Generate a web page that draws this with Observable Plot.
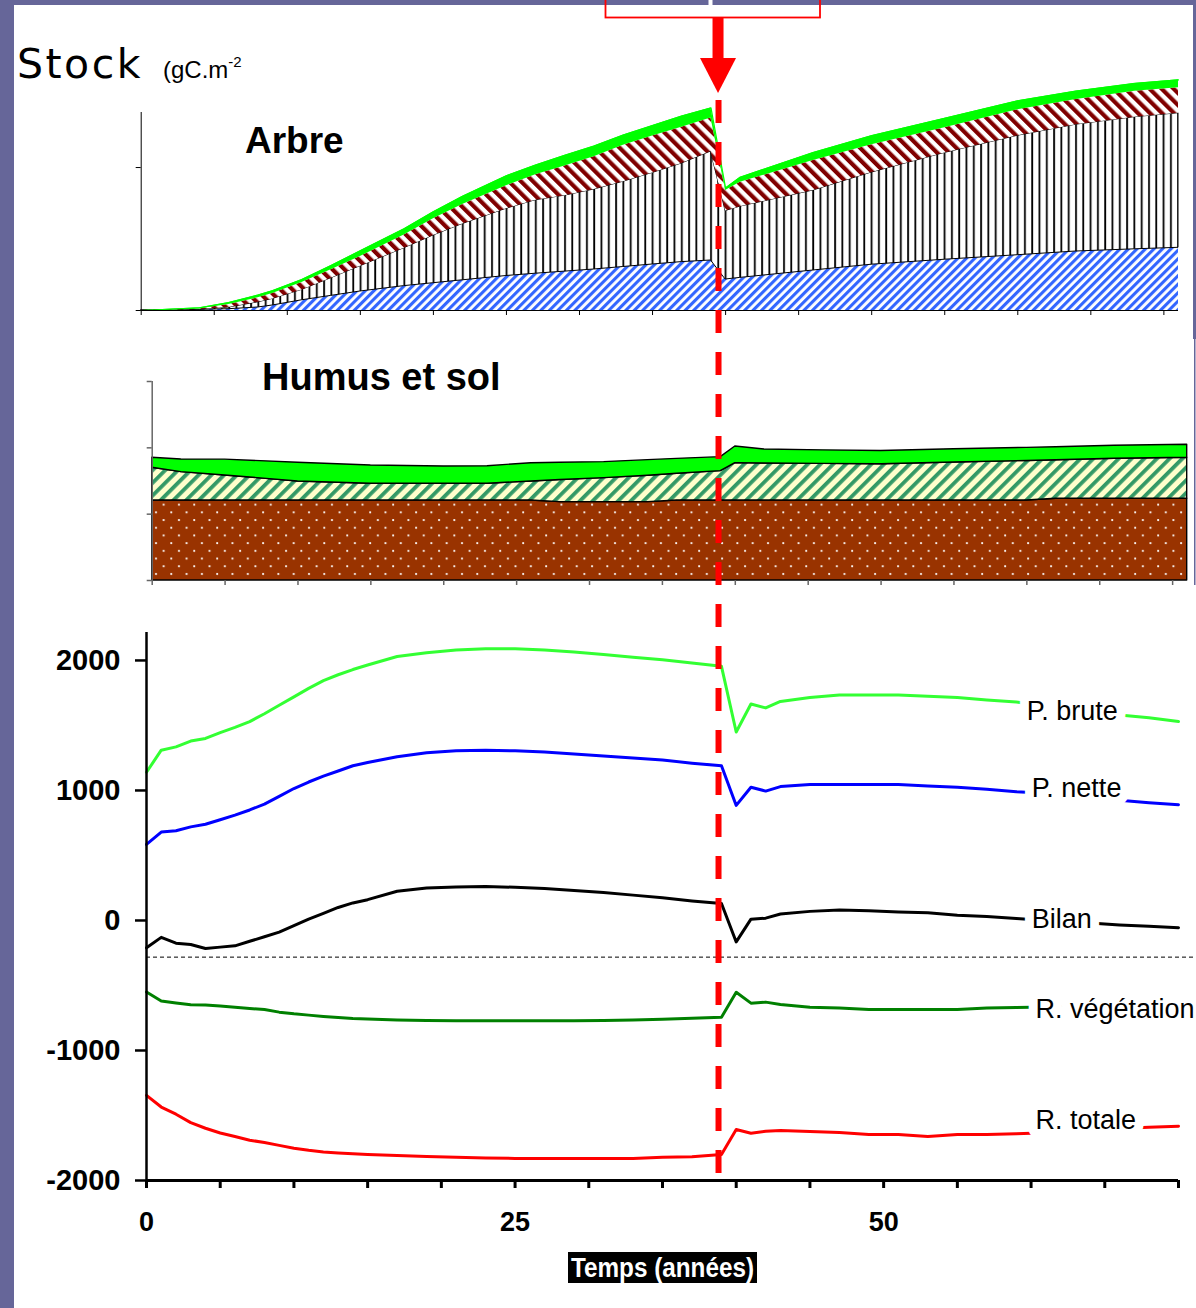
<!DOCTYPE html>
<html lang="fr">
<head>
<meta charset="utf-8">
<title>Stock</title>
<script src="https://cdn.jsdelivr.net/npm/d3@7"></script>
<script src="https://cdn.jsdelivr.net/npm/@observablehq/plot@0.6"></script>
<style>
  html,body{margin:0;padding:0;background:#fff;}
  #page{position:relative;width:1196px;height:1308px;overflow:hidden;background:#fff;}
  #page > svg{position:absolute;}
</style>
</head>
<body>
<div id="page"></div>
<script>
// ---------------- Flux panel (gC.m-2 per year) ----------------
const fluxYears = [0,1,2,3,4,5,6,7,8,9,10,11,12,13,14,15,17,19,21,23,25,27,29,31,33,35,37,39,40,41,42,43,45,47,49,51,53,55,57,59,60,62,64,66,68,70];
const pBrute = [1140,1310,1335,1380,1400,1445,1485,1530,1590,1655,1720,1785,1845,1890,1930,1965,2030,2060,2080,2090,2090,2080,2065,2045,2025,2005,1980,1955,1450,1665,1635,1685,1715,1735,1735,1735,1725,1715,1695,1680,1665,1640,1610,1580,1560,1530];
const pNette = [585,680,690,720,740,775,810,850,895,955,1015,1065,1110,1150,1190,1215,1260,1290,1305,1310,1305,1295,1280,1265,1250,1235,1210,1190,885,1025,995,1030,1045,1045,1045,1045,1035,1025,1010,990,985,960,940,925,905,890];
const bilan = [-210,-130,-175,-185,-215,-205,-195,-160,-125,-90,-40,10,55,100,135,160,225,250,258,262,255,245,230,215,195,175,150,130,-165,10,18,50,70,80,75,65,60,40,30,15,8,-5,-20,-35,-45,-55];
const rVegetation = [-550,-620,-635,-648,-650,-658,-668,-677,-685,-705,-718,-728,-738,-746,-754,-758,-765,-770,-772,-772,-772,-772,-772,-770,-766,-760,-752,-744,-552,-636,-628,-646,-667,-674,-685,-685,-685,-685,-674,-670,-667,-665,-662,-660,-658,-655];
const rTotale = [-1345,-1435,-1490,-1555,-1598,-1635,-1662,-1690,-1708,-1730,-1752,-1768,-1780,-1788,-1795,-1800,-1808,-1815,-1822,-1826,-1830,-1830,-1830,-1830,-1830,-1822,-1818,-1800,-1608,-1636,-1621,-1615,-1623,-1631,-1646,-1646,-1662,-1646,-1646,-1640,-1636,-1625,-1612,-1600,-1590,-1582];
const fluxNames = ["P. brute","P. nette","Bilan","R. végétation","R. totale"];
const fluxColors = ["#33ff33","#0000ff","#000000","#008000","#ff0000"];
const labelYears = [59.7, 60.05, 60.05, 60.3, 60.3];
const labelValues = [1605, 1015, 5, -680, -1534];
const fluxTicks = [-2000,-1000,0,1000,2000];
const yearTicks = [0,5,10,15,20,25,30,35,40,45,50,55,60,65,70];
const yearTickLabels = [0,25,50];
const refLevel = -282;
const eventYear = 38.8;

// ---------------- Stock panel "Arbre" (gC.m-2) ----------------
const treeYears = [0,4,6,8,9,11,13,15,18,20,22,25,27,29,31,33,35,37,39,40,41,46,50,55,60,64,68,71];
const treeStem = [0,49,91,210,350,713,1021,1329,1706,1909,2112,2413,2573,2720,2867,3042,3217,3385,3497,2168,2280,2797,3203,3552,3867,4126,4280,4385];
const treeWood = [0,21,119,363,461,728,1238,1769,2651,3336,3937,4706,5140,5315,5595,5965,6405,6895,7622,4790,4986,5595,6447,7469,8357,8874,9244,9413];
const treeBranches = [0,49,210,315,378,510,587,678,916,1168,1364,1608,1783,2070,2300,2560,2580,2530,2350,1434,1699,2098,1951,1762,1818,1755,1804,1776];
const treeLeaves = [0,70,140,190,200,220,300,400,450,500,580,700,679,748,741,706,735,791,700,175,350,559,629,664,629,594,559,559];
const treeYTicks = [0,10000];

// ---------------- Stock panel "Humus et sol" (gC.m-2) ----------------
const soilYears = [0,2,5,10,15,20,23,26,28,31,34,36,39,40,42,46,50,55,60,62,66,71];
const soilMineral = [6030,6030,6030,6030,6030,6030,6030,6030,5910,5910,5910,6030,6030,6030,6030,6030,6030,6030,6030,6160,6160,6160];
const soilLitter = [2469,2137,1888,1436,1262,1262,1262,1436,1660,1804,1990,2016,2212,2816,2790,2760,2730,2870,2980,2900,3020,3093];
const soilFresh = [754,958,1192,1414,1373,1305,1318,1374,1310,1211,1170,1124,1056,1259,1056,1020,1003,990,990,980,975,980];
const soilYTicks = [0,5000,10000,15000];
const stockXTicks = [0,5,10,15,20,25,30,35,40,45,50,55,60,65,70];

// ---------------- helpers ----------------
const page = document.getElementById("page");
const SVGNS = "http://www.w3.org/2000/svg";
function place(el, top){ el.style.left = "0px"; el.style.top = top + "px"; page.appendChild(el); return el; }
function patternize(svg, defsHtml, map){
  const defs = document.createElementNS(SVGNS, "defs");
  defs.innerHTML = defsHtml;
  svg.insertBefore(defs, svg.firstChild);
  for (const [ph, id] of Object.entries(map)) {
    svg.querySelectorAll(`[fill="${ph}"]`).forEach(e => e.setAttribute("fill", `url(#${id})`));
  }
}
const BASE_STYLE = "background:transparent;overflow:visible;font-family:'Liberation Sans',Arial,sans-serif;";
const F = "'Liberation Sans',Arial,sans-serif";

// ---------------- background decor (titles) ----------------
const deco = d3.create("svg").attr("width",1196).attr("height",1308).attr("xmlns",SVGNS);
deco.append("clipPath").attr("id","unitClip").append("rect").attr("x",0).attr("y",0).attr("width",246).attr("height",120);
deco.append("text").attr("x",17).attr("y",78).attr("font-family","'DejaVu Sans',Verdana,sans-serif")
  .attr("font-size",41).attr("letter-spacing",2.5).attr("fill","#000").text("Stock");
const unit = deco.append("text").attr("x",163).attr("y",78).attr("font-family",F).attr("font-size",24)
  .attr("fill","#000").attr("clip-path","url(#unitClip)");
unit.append("tspan").text("(gC.m");
unit.append("tspan").attr("dy",-11).attr("font-size",15).text("-2");
deco.append("text").attr("x",245).attr("y",153).attr("font-family",F).attr("font-weight","bold")
  .attr("font-size",37).attr("fill","#000").text("Arbre");
deco.append("text").attr("x",262).attr("y",390).attr("font-family",F).attr("font-weight","bold")
  .attr("font-size",38).attr("fill","#000").text("Humus et sol");
deco.append("rect").attr("x",568).attr("y",1252).attr("width",189).attr("height",31).attr("fill","#000");
deco.append("text").attr("x",662.5).attr("y",1277).attr("text-anchor","middle").attr("font-family",F)
  .attr("font-weight","bold").attr("font-size",27).attr("fill","#fff")
  .attr("textLength",183).attr("lengthAdjust","spacingAndGlyphs").text("Temps (années)");
place(deco.node(), 0);

// ---------------- panel 1 : Arbre ----------------
const treeRows = treeYears.map((t,i) => {
  const a = treeStem[i], b = a + treeWood[i], c = b + treeBranches[i], d = c + treeLeaves[i];
  return {t, a, b, c, d};
});
const p1 = Plot.plot({
  width:1196, height:270, marginTop:52, marginBottom:20, marginLeft:140.7, marginRight:18,
  style: BASE_STYLE,
  x:{domain:[0,71], axis:null},
  y:{domain:[0,13850], axis:null},
  marks:[
    Plot.areaY(treeRows, {x:"t", y1:0, y2:"a", fill:"#000001"}),
    Plot.areaY(treeRows, {x:"t", y1:"a", y2:"b", fill:"#000002", stroke:"#000", strokeWidth:1}),
    Plot.areaY(treeRows, {x:"t", y1:"b", y2:"c", fill:"#000003"}),
    Plot.areaY(treeRows, {x:"t", y1:"c", y2:"d", fill:"#00ff00"}),
    Plot.lineY(treeRows, {x:"t", y:"d", stroke:"#00ff00", strokeWidth:1.2}),
    Plot.ruleX([0], {stroke:"#000", strokeWidth:1}),
    Plot.ruleY([0], {stroke:"#000", strokeWidth:1}),
    Plot.axisY(treeYTicks, {anchor:"left", tickSize:5, tickFormat:() => "", label:null, stroke:"#000"}),
    Plot.axisX(stockXTicks, {anchor:"bottom", tickSize:5, tickFormat:() => "", label:null, stroke:"#000"})
  ]
});
patternize(p1, `
  <pattern id="pBlue" patternUnits="userSpaceOnUse" width="6" height="6" patternTransform="rotate(45)">
    <rect width="6" height="6" fill="#fff"/><rect width="3.1" height="6" fill="#3366ff"/></pattern>
  <pattern id="pVert" patternUnits="userSpaceOnUse" width="7.3" height="10">
    <rect width="7.3" height="10" fill="#fff"/><rect x="2" width="1.8" height="10" fill="#000"/></pattern>
  <pattern id="pRed" patternUnits="userSpaceOnUse" width="8.5" height="8.5" patternTransform="rotate(-45)">
    <rect width="8.5" height="8.5" fill="#fff"/><rect width="4.2" height="8.5" fill="#800000"/></pattern>`,
  {"#000001":"pBlue", "#000002":"pVert", "#000003":"pRed"});
place(p1, 60);

// ---------------- panel 2 : Humus et sol ----------------
const soilRows = soilYears.map((t,i) => {
  const a = soilMineral[i], b = a + soilLitter[i], c = b + soilFresh[i];
  return {t, a, b, c};
});
const p2 = Plot.plot({
  width:1196, height:260, marginTop:41, marginBottom:20, marginLeft:151.7, marginRight:9.3,
  style: BASE_STYLE,
  x:{domain:[0,71], axis:null},
  y:{domain:[0,15000], axis:null},
  marks:[
    Plot.areaY(soilRows, {x:"t", y1:0, y2:"a", fill:"#000004", stroke:"#000", strokeWidth:1.4}),
    Plot.areaY(soilRows, {x:"t", y1:"a", y2:"b", fill:"#000005", stroke:"#000", strokeWidth:1.4}),
    Plot.areaY(soilRows, {x:"t", y1:"b", y2:"c", fill:"#00ff00", stroke:"#000", strokeWidth:1.4}),
    Plot.ruleX([0], {stroke:"#666", strokeWidth:1.5}),
    Plot.axisY(soilYTicks, {anchor:"left", tickSize:5, tickFormat:() => "", label:null, stroke:"#666", strokeWidth:1.5}),
    Plot.axisX(stockXTicks, {anchor:"bottom", tickSize:5, tickFormat:() => "", label:null, stroke:"#666", strokeWidth:1.5})
  ]
});
patternize(p2, `
  <pattern id="pLitter" patternUnits="userSpaceOnUse" width="9" height="9" patternTransform="rotate(45)">
    <rect width="9" height="9" fill="#ffffcc"/><rect width="3.8" height="9" fill="#339966"/></pattern>
  <pattern id="pSoil" patternUnits="userSpaceOnUse" width="15.3" height="15.4">
    <rect width="15.3" height="15.4" fill="#993300"/>
    <circle cx="3" cy="3" r="1.1" fill="#fff"/><circle cx="10.65" cy="10.7" r="1.1" fill="#fff"/></pattern>`,
  {"#000004":"pSoil", "#000005":"pLitter"});
place(p2, 340);

// ---------------- panel 3 : flux ----------------
const fluxSeries = [pBrute, pNette, bilan, rVegetation, rTotale];
const fluxRows = fluxNames.flatMap((name,k) => fluxYears.map((t,i) => ({t, v: fluxSeries[k][i], name})));
const labelRows = fluxNames.map((name,k) => ({t: labelYears[k], v: labelValues[k], name}));
const p3 = Plot.plot({
  width:1196, height:640, marginTop:32, marginBottom:60, marginLeft:146, marginRight:18,
  style: BASE_STYLE + "font-weight:bold;color:#000;",
  x:{domain:[0,70], axis:null},
  y:{domain:[-2000,2215], axis:null},
  color:{domain:fluxNames, range:fluxColors},
  marks:[
    Plot.ruleY([refLevel], {x1:0, x2:71.3, stroke:"#000", strokeWidth:1, strokeDasharray:"4,3"}),
    Plot.line(fluxRows, {x:"t", y:"v", z:"name", stroke:"name", strokeWidth:3, strokeLinejoin:"round"}),
    Plot.text(labelRows, {x:"t", y:"v", text:"name", textAnchor:"start", fontSize:27, fontWeight:"normal",
      fill:"#000", stroke:"#fff", strokeWidth:18, strokeLinejoin:"round"}),
    Plot.ruleX([0], {stroke:"#000", strokeWidth:2.5}),
    Plot.ruleY([-2000], {stroke:"#000", strokeWidth:3}),
    Plot.axisY(fluxTicks, {anchor:"left", tickSize:11, tickPadding:15, tickFormat:d => String(d),
      fontSize:29, stroke:"#000", strokeWidth:2.5, label:null}),
    Plot.axisX(yearTicks, {anchor:"bottom", tickSize:8, tickFormat:() => "", stroke:"#000", strokeWidth:3, label:null}),
    Plot.axisX(yearTickLabels, {anchor:"bottom", tickSize:0, tickPadding:31, tickFormat:d => String(d), fontSize:27, label:null})
  ]
});
place(p3, 600);

// ---------------- overlay : event line, arrow, frame ----------------
const markerTop = 100, markerBottom = 1182;
const ov = Plot.plot({
  width:1196, height:1308, marginTop:0, marginBottom:0, marginLeft:146, marginRight:18,
  style: BASE_STYLE,
  x:{domain:[0,70], axis:null},
  y:{domain:[0,1308], range:[0,1308], axis:null},
  marks:[
    Plot.ruleX([eventYear], {y1:markerTop, y2:markerBottom, stroke:"#ff0000", strokeWidth:6, strokeDasharray:"23,19"})
  ]
});
const ax = ov.scale("x").apply(eventYear);
const o = d3.select(ov);
o.append("rect").attr("x",0).attr("y",0).attr("width",14).attr("height",1308).attr("fill","#666699");
o.append("rect").attr("x",0).attr("y",0).attr("width",1196).attr("height",5).attr("fill","#666699");
o.append("rect").attr("x",1193).attr("y",0).attr("width",3).attr("height",339).attr("fill","#666699");
o.append("rect").attr("x",1194).attr("y",339).attr("width",1.5).attr("height",246).attr("fill","#666699");
o.append("rect").attr("x",708.5).attr("y",0).attr("width",4).attr("height",5).attr("fill","#fff");
o.append("rect").attr("x",605.5).attr("y",-5).attr("width",214.5).attr("height",22.5)
  .attr("fill","none").attr("stroke","#ff0000").attr("stroke-width",1.8);
o.append("rect").attr("x",ax - 5.5).attr("y",18).attr("width",11).attr("height",41).attr("fill","#ff0000");
o.append("path").attr("d",`M${ax-18},58 L${ax+18},58 L${ax},93 Z`).attr("fill","#ff0000");
place(ov, 0);
</script>
</body>
</html>
